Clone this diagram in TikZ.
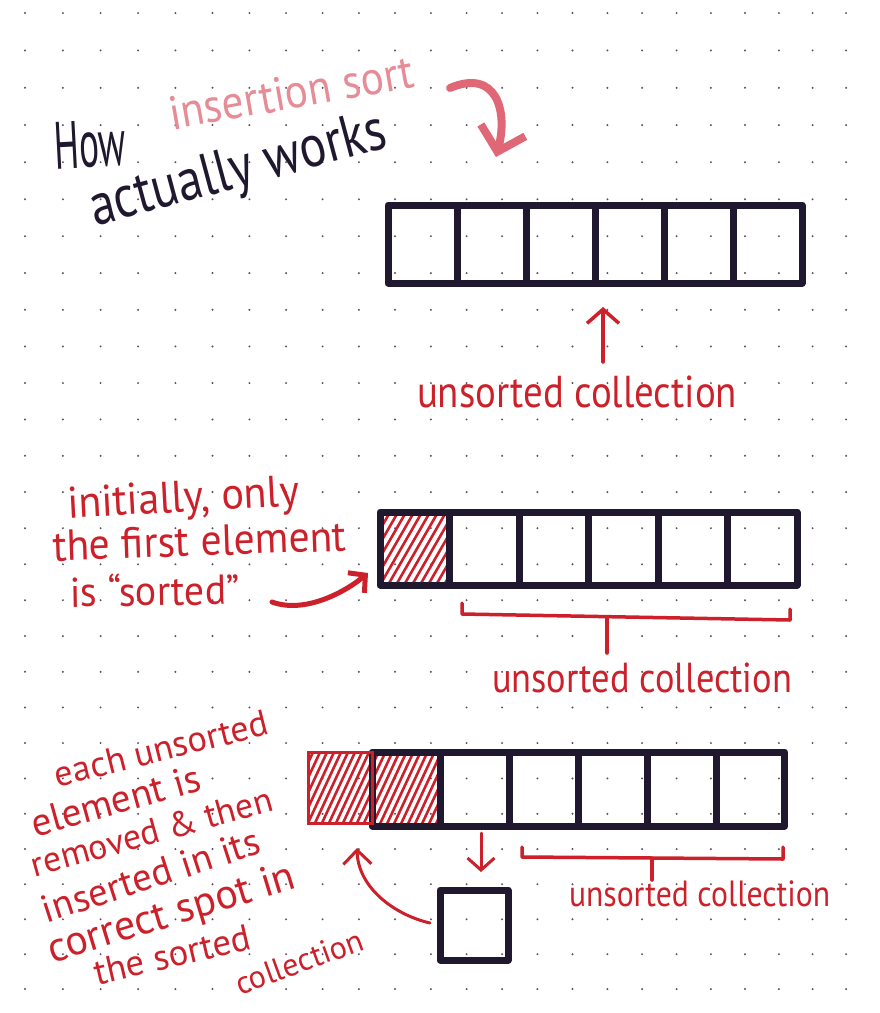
\documentclass[tikz,border=0pt]{standalone}
\usepackage{fontspec}
\setmainfont{PT Sans}
\usepackage{graphicx}
\usetikzlibrary{arrows.meta,calc}
\definecolor{ink}{RGB}{32,24,46}
\definecolor{pen}{RGB}{204,32,42}
\definecolor{pinktxt}{RGB}{230,140,150}
\definecolor{pinkpen}{RGB}{224,104,118}
\definecolor{dotc}{RGB}{95,75,95}
\newcommand{\hw}[3][1.15]{\scalebox{1}[#1]{\resizebox{#2}{!}{#3}}}
\pgfdeclarelayer{bg}
\pgfsetlayers{bg,main}
\begin{document}
\begin{tikzpicture}[x=1pt,y=-1pt,
  cell/.style={draw=ink,line width=7pt,inner sep=0pt,outer sep=0pt,line join=round},
  redline/.style={draw=pen,line width=3.5pt,line cap=round,line join=round},
  hatchline/.style={draw=pen,line width=2.6pt,line cap=round},
  txt/.style={inner sep=0pt,outer sep=0pt,anchor=base west},
  redtxt/.style={txt,text=pen}]
\useasboundingbox (0,0) rectangle (880,1013);

% arrays
\foreach \i in {1,...,6}{
  \node[cell,minimum width=69pt,minimum height=78pt] (a\i) at ({388+69*(\i-0.5)},244) {};
  \node[cell,minimum width=69.5pt,minimum height=73pt] (b\i) at ({380+69.5*(\i-0.5)},548.5) {};
  \node[cell,minimum width=68.8pt,minimum height=74pt] (c\i) at ({372+68.8*(\i-0.5)},789) {};
}
\node[draw=pen,line width=3pt,inner sep=0pt,outer sep=0pt,minimum width=64pt,minimum height=71pt] (rb) at (340,787.5) {};
\node[cell,minimum width=68pt,minimum height=70pt] (sb) at (474,925) {};

% background: paper, dots and hatching
\begin{pgfonlayer}{bg}
\fill[white] (0,0) rectangle (880,1013);
\foreach \i in {0,...,23}{
  \foreach \j in {0,...,27}{
    \fill[dotc] ({25+38*\i-0.1*\i*\i},{13+37.5*\j-0.05*\j*\j}) circle (1.1);
  }
}
\foreach \n/\s/\a in {b1/8/-60,c1/7/-65,rb/7/-65}{
  \begin{scope}
    \clip (\n.south west) rectangle (\n.north east);
    \foreach \k in {-14,...,12}
      \draw[hatchline] ($(\n.south west)+(\k*\s,0)$) -- ++(\a:140);
  \end{scope}
}
\end{pgfonlayer}

% title
\node[txt,text=ink,rotate=3] (how) at (55,169) {\hw[1.8]{72pt}{How}};
\node[txt,text=pinktxt,rotate=10] (ins) at (172,130) {\hw[1.1]{248pt}{insertion sort}};
\node[txt,text=ink,rotate=15] (act) at (95,226) {\hw[1.2]{305pt}{actually works}};
\coordinate (pk1) at (450,88);
\coordinate (pk2) at (496,157);
\draw[draw=pinkpen,line width=8pt,line cap=round,line join=round,
  -{Straight Barb[length=22pt,width=46pt]}]
  (pk1) .. controls (497,68) and (508,112) .. (pk2);

% first diagram label
\node[redtxt] (u1) at (417,407) {\hw{320pt}{unsorted collection}};
\coordinate (p1s) at (603,362);
\coordinate (p1e) at (603,307);
\draw[redline,-{Straight Barb[length=14pt,width=32pt]}] (p1s) -- (p1e);

% second diagram
\node[redtxt,rotate=3] (l1) at (68,518) {\hw[1.05]{232pt}{initially, only}};
\node[redtxt,rotate=2] (l2) at (53,561) {\hw[1.05]{294pt}{the first element}};
\node[redtxt,rotate=1] (l3) at (70,607) {\hw[1.05]{170pt}{is “sorted”}};
\coordinate (q1) at (272,602);
\coordinate (q2) at (368,573);
\draw[redline,line width=5pt,-{Straight Barb[length=12pt,width=26pt]}]
  (q1) .. controls (305,614) and (345,592) .. (q2);
\coordinate (b2l) at (462,603);
\coordinate (b2lb) at (462,614);
\coordinate (b2rb) at (790,620);
\coordinate (b2r) at (790,609);
\draw[redline] (b2l) -- (b2lb) -- (b2rb) -- (b2r);
\coordinate (s2a) at (607,617);
\coordinate (s2b) at (607,653);
\draw[redline] (s2a) -- (s2b);
\node[redtxt] (u2) at (492,692) {\hw{300pt}{unsorted collection}};

% third diagram
\node[redtxt,rotate=14] (m1) at (58,787) {\hw[1]{219pt}{each unsorted}};
\node[redtxt,rotate=15.5] (m2) at (35,837) {\hw[1]{175pt}{element is}};
\node[redtxt,rotate=15.5] (m3) at (35,877) {\hw[1]{249pt}{removed \& then}};
\node[redtxt,rotate=18] (m4) at (47,923) {\hw[1]{227pt}{inserted in its}};
\node[redtxt,rotate=17] (m5) at (52,963) {\hw[1]{257pt}{correct spot in}};
\node[redtxt,rotate=13] (m6) at (97,985) {\hw[1]{160pt}{the sorted}};
\node[redtxt,rotate=20] (m7) at (240,995) {\hw[1]{134pt}{collection}};

\coordinate (d1) at (481,833);
\coordinate (d2) at (481,872);
\draw[redline,line width=3pt,-{Straight Barb[length=12pt,width=27pt]}] (d1) -- (d2);
\coordinate (r1) at (430,923);
\coordinate (r2) at (357,848);
\draw[redline,line width=3pt,-{Straight Barb[length=14pt,width=28pt]}]
  (r1) .. controls (395,915) and (358,888) .. (r2);
\coordinate (b3l) at (522,847);
\coordinate (b3lb) at (522,857);
\coordinate (b3rb) at (783,859);
\coordinate (b3r) at (783,847);
\draw[redline] (b3l) -- (b3lb) -- (b3rb) -- (b3r);
\coordinate (s3a) at (652,858);
\coordinate (s3b) at (652,880);
\draw[redline] (s3a) -- (s3b);
\node[redtxt] (u3) at (569,906) {\hw{261pt}{unsorted collection}};
\end{tikzpicture}
\end{document}
